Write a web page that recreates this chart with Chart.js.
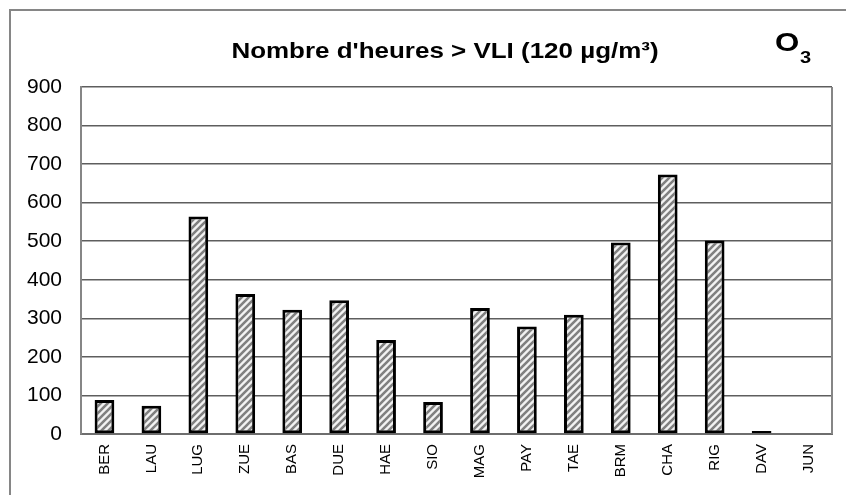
<!DOCTYPE html>
<html>
<head>
<meta charset="utf-8">
<script src="https://cdn.jsdelivr.net/npm/chart.js@4.4.1/dist/chart.umd.min.js"></script>
<style>
  html, body { margin: 0; padding: 0; background: #fff; }
  #wrap { width: 846px; height: 495px; position: relative; }
</style>
</head>
<body>
<div id="wrap"><canvas id="c" width="846" height="495"></canvas></div>
<script>
const categories = ["BER","LAU","LUG","ZUE","BAS","DUE","HAE","SIO","MAG","PAY","TAE","BRM","CHA","RIG","DAV","JUN"];
const hoursAboveLimit = [88, 73, 564, 363, 322, 347, 244, 83, 327, 279, 309, 497, 673, 502, 8, 0];
const yTicks = [0, 100, 200, 300, 400, 500, 600, 700, 800, 900];
const titleText = "Nombre d'heures > VLI (120 µg/m³)";
const pollutant = "O";
const pollutantSub = "3";

function makePattern() {
  const s = 7;
  const p = document.createElement('canvas');
  p.width = s; p.height = s;
  const g = p.getContext('2d');
  g.fillStyle = '#f2f2f2';
  g.fillRect(0, 0, s, s);
  g.strokeStyle = '#808080';
  g.lineWidth = 2.6;
  g.beginPath();
  g.moveTo(-s, s * 2); g.lineTo(s * 2, -s);
  g.moveTo(-s * 2, s * 2); g.lineTo(s, -s);
  g.moveTo(0, s * 2); g.lineTo(s * 3, -s);
  g.stroke();
  return document.getElementById('c').getContext('2d').createPattern(p, 'repeat');
}

const frame = {
  id: 'frame',
  beforeDraw(chart) {
    const ctx = chart.ctx;
    ctx.save();
    ctx.strokeStyle = '#868686';
    ctx.lineWidth = 2;
    ctx.strokeRect(10, 10, 900, 600);
    ctx.restore();
  },
  afterDraw(chart) {
    const ctx = chart.ctx;
    const a = chart.chartArea;
    ctx.save();
    ctx.strokeStyle = '#868686';
    ctx.lineWidth = 2;
    ctx.beginPath();
    ctx.moveTo(a.right, a.top);
    ctx.lineTo(a.right, a.bottom);
    ctx.stroke();
    ctx.fillStyle = '#000';
    ctx.textBaseline = 'alphabetic';
    // title
    ctx.save();
    ctx.translate(445, 58);
    ctx.scale(1.18, 1);
    ctx.textAlign = 'center';
    ctx.font = 'bold 22px "Liberation Sans", Arial, sans-serif';
    ctx.fillText(titleText, 0, 0);
    ctx.restore();
    // O3 label
    ctx.save();
    ctx.translate(775, 51);
    ctx.scale(1.25, 1);
    ctx.textAlign = 'left';
    ctx.font = 'bold 25px "Liberation Sans", Arial, sans-serif';
    ctx.fillText(pollutant, 0, 0);
    const w = ctx.measureText(pollutant).width;
    ctx.font = 'bold 16px "Liberation Sans", Arial, sans-serif';
    ctx.fillText(pollutantSub, w + 0.5, 12);
    ctx.restore();
    ctx.restore();
  }
};

new Chart(document.getElementById('c'), {
  type: 'bar',
  data: {
    labels: categories,
    datasets: [{
      data: hoursAboveLimit,
      backgroundColor: makePattern(),
      borderColor: '#000',
      borderWidth: 3,
      borderSkipped: false,
      barPercentage: 0.42,
      categoryPercentage: 1.0
    }]
  },
  options: {
    responsive: false,
    animation: false,
    devicePixelRatio: 1,
    layout: { padding: { top: 87, right: 14, left: 0, bottom: 0 } },
    plugins: { legend: { display: false }, title: { display: false }, tooltip: { enabled: false } },
    scales: {
      x: {
        grid: { display: false, drawTicks: false },
        border: { display: true, color: '#6e6e6e', width: 2 },
        ticks: {
          color: '#000',
          font: { family: '"Liberation Sans", Arial, sans-serif', size: 15 },
          minRotation: 90, maxRotation: 90, padding: 10, autoSkip: false
        },
        afterFit(scale) { scale.height = 495 - 434; }
      },
      y: {
        min: 0, max: 900,
        afterBuildTicks(scale) { scale.ticks = yTicks.map(v => ({ value: v })); },
        grid: { color: '#5e5e5e', lineWidth: 1.5, drawTicks: false },
        border: { display: true, color: '#868686', width: 2 },
        ticks: {
          color: '#000',
          font: { family: '"Liberation Sans", Arial, sans-serif', size: 21 },
          padding: 19
        },
        afterFit(scale) { scale.width = 81; }
      }
    }
  },
  plugins: [frame]
});
</script>
</body>
</html>
